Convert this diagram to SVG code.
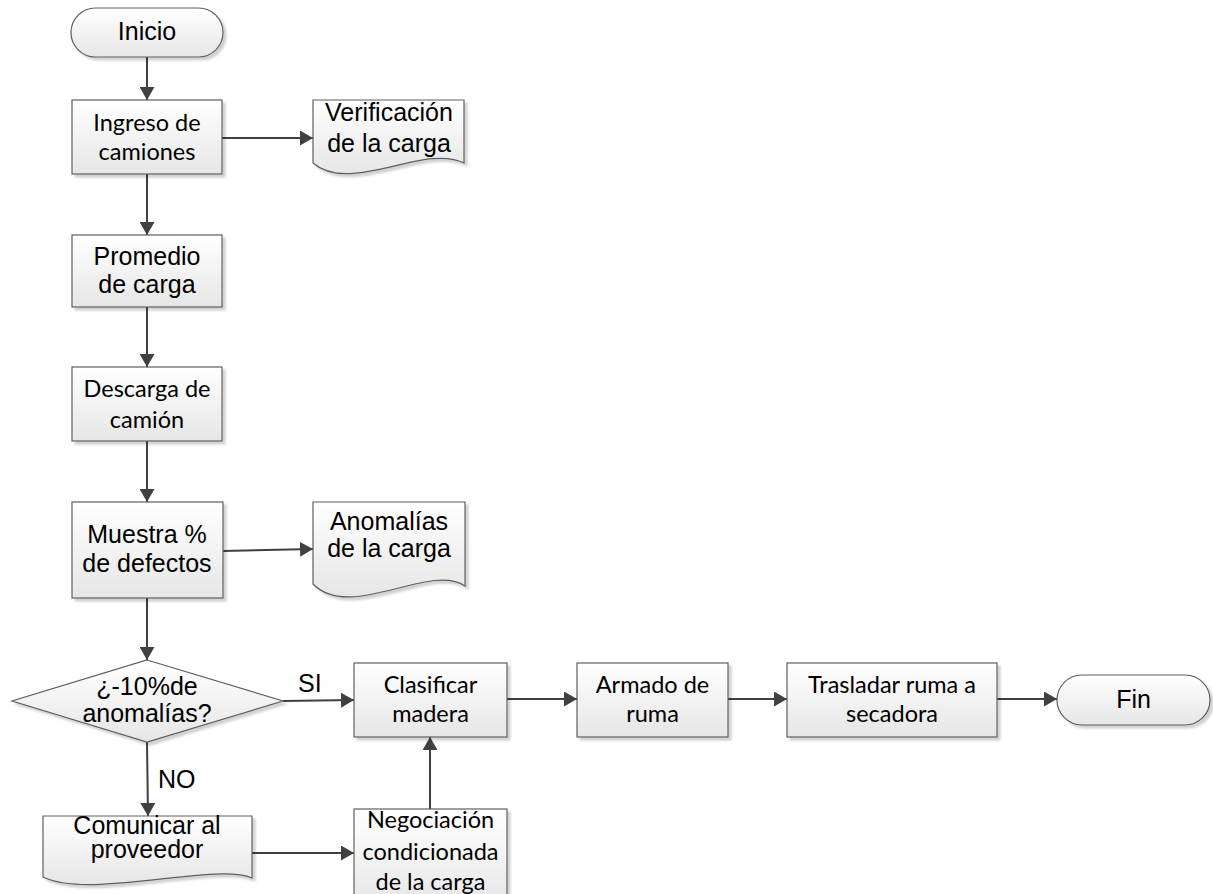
<svg xmlns="http://www.w3.org/2000/svg" width="1213" height="894" viewBox="0 0 1213 894">
<style>
.shape{fill:url(#g);stroke:#5f5f5f;stroke-width:1.2;filter:url(#sh)}
.ar{font-family:"Liberation Sans",Arial,sans-serif;font-size:25px;fill:#000;text-anchor:middle}
.ca{font-family:Lato,"Open Sans",sans-serif;font-size:23.5px;fill:#000;text-anchor:middle}
.lbl{font-family:"Liberation Sans",Arial,sans-serif;font-size:25px;fill:#000}
.c{stroke:#404040;stroke-width:2;fill:none;marker-end:url(#ah)}
</style>
<defs>
<linearGradient id="g" x1="0" y1="0" x2="0" y2="1">
<stop offset="0" stop-color="#ffffff"/>
<stop offset="1" stop-color="#e6e6e6"/>
</linearGradient>
<filter id="sh" x="-10%" y="-10%" width="125%" height="130%">
<feDropShadow dx="3" dy="3" stdDeviation="1.2" flood-color="#000" flood-opacity="0.18"/>
</filter>
<marker id="ah" markerUnits="userSpaceOnUse" markerWidth="14" markerHeight="15" refX="13" refY="7.5" orient="auto">
<path d="M0,0 L13,7.5 L0,15 z" fill="#404040"/>
</marker>
</defs>
<rect width="1213" height="894" fill="#fff"/>

<g id="connectors">
<line class="c" x1="147" y1="57" x2="147" y2="100"/>
<line class="c" x1="222" y1="138" x2="313" y2="138"/>
<line class="c" x1="147" y1="174" x2="147" y2="235"/>
<line class="c" x1="147" y1="307" x2="147" y2="367"/>
<line class="c" x1="147" y1="441" x2="147" y2="502"/>
<line class="c" x1="223" y1="551" x2="313" y2="549"/>
<line class="c" x1="147" y1="598" x2="147" y2="660"/>
<line class="c" x1="283" y1="701" x2="354" y2="700"/>
<line class="c" x1="147" y1="742" x2="148" y2="816"/>
<line class="c" x1="252" y1="853" x2="354" y2="853"/>
<line class="c" x1="430" y1="809" x2="430" y2="737"/>
<line class="c" x1="507" y1="699" x2="577" y2="699"/>
<line class="c" x1="728" y1="699" x2="787" y2="699"/>
<line class="c" x1="997" y1="699" x2="1057" y2="699"/>
<text class="lbl" x="298" y="692">SI</text>
<text class="lbl" x="158" y="788">NO</text>
</g>

<g id="inicio">
<rect class="shape" x="71" y="8" width="152" height="49" rx="24.5"/>
<text class="ar" x="147" y="40">Inicio</text>
</g>

<g id="ingreso">
<rect class="shape" x="72" y="100" width="150" height="74"/>
<text class="ca" x="147" y="131">Ingreso de</text>
<text class="ca" x="147" y="160">camiones</text>
</g>

<g id="verificacion">
<path class="shape" d="M313,100 H464 V163 C425,143 350,195 313,163 Z"/>
<text class="ar" x="389" y="121">Verificación</text>
<text class="ar" x="389" y="152">de la carga</text>
</g>

<g id="promedio">
<rect class="shape" x="72" y="235" width="150" height="72"/>
<text class="ar" x="147" y="265">Promedio</text>
<text class="ar" x="147" y="293">de carga</text>
</g>

<g id="descarga">
<rect class="shape" x="72" y="367" width="150" height="74"/>
<text class="ca" x="147" y="397">Descarga de</text>
<text class="ca" x="147" y="428">camión</text>
</g>

<g id="muestra">
<rect class="shape" x="72" y="502" width="151" height="96"/>
<text class="ar" x="147" y="543">Muestra %</text>
<text class="ar" x="147" y="572">de defectos</text>
</g>

<g id="anomalias">
<path class="shape" d="M313,502 H465 V586 C430,562 350,622 313,584 Z"/>
<text class="ar" x="389" y="530">Anomalías</text>
<text class="ar" x="389" y="557">de la carga</text>
</g>

<g id="decision">
<polygon class="shape" points="147,660 283,701 147,742 12,701"/>
<text class="ar" x="147" y="695">¿-10%de</text>
<text class="ar" x="147" y="722">anomalías?</text>
</g>

<g id="comunicar">
<path class="shape" d="M43,816 H252 V878 C215,862 90,900 43,877 Z"/>
<text class="ar" x="147" y="834">Comunicar al</text>
<text class="ar" x="147" y="858">proveedor</text>
</g>

<g id="negociacion">
<rect class="shape" x="354" y="809" width="153" height="100"/>
<text class="ca" x="430.5" y="828">Negociación</text>
<text class="ca" x="430.5" y="860">condicionada</text>
<text class="ca" x="430.5" y="890">de la carga</text>
</g>

<g id="clasificar">
<rect class="shape" x="354" y="663" width="153" height="74"/>
<text class="ca" x="430.5" y="693">Clasificar</text>
<text class="ca" x="430.5" y="722">madera</text>
</g>

<g id="armado">
<rect class="shape" x="577" y="663" width="151" height="74"/>
<text class="ca" x="652.5" y="693">Armado de</text>
<text class="ca" x="652.5" y="722">ruma</text>
</g>

<g id="trasladar">
<rect class="shape" x="787" y="663" width="210" height="74"/>
<text class="ca" x="892" y="693">Trasladar ruma a</text>
<text class="ca" x="892" y="722">secadora</text>
</g>

<g id="fin">
<rect class="shape" x="1057" y="675" width="153" height="50" rx="25"/>
<text class="ar" x="1133.5" y="708">Fin</text>
</g>
</svg>
